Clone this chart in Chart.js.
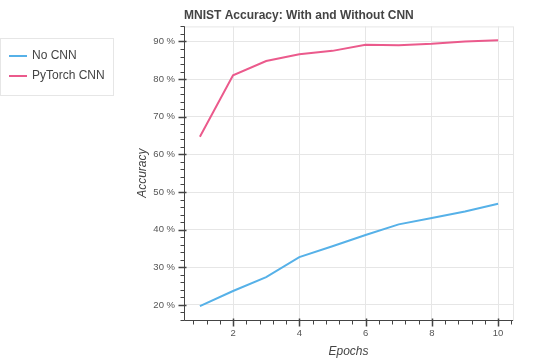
<!DOCTYPE html>
<html>
<head>
<meta charset="utf-8">
<script src="https://cdn.jsdelivr.net/npm/chart.js@4/dist/chart.umd.min.js"></script>
<style>
  html, body { margin: 0; padding: 0; background: #fff; }
  canvas { display: block; }
</style>
</head>
<body>
<canvas id="accChart" width="539" height="359"></canvas>
<script>
// Données
const epochs = [1, 2, 3, 4, 5, 6, 7, 8, 9, 10];
const noCnn = [19.7, 23.7, 27.4, 32.7, 35.6, 38.6, 41.4, 43.1, 44.8, 46.9];
const pytorchCnn = [64.7, 81.0, 84.8, 86.6, 87.5, 89.1, 89.0, 89.4, 90.0, 90.3];

const xTicks = [2, 4, 6, 8, 10];
const yTicks = [20, 30, 40, 50, 60, 70, 80, 90];

const FONT = "'Liberation Sans', Arial, Helvetica, sans-serif";
const AXIS_COLOR = "#444";
const GRID_COLOR = "#e6e6e6";

// Graduations mineures (x tous les 0.4, y tous les 2 %)
const xMinor = [];
for (let i = 2; i <= 26; i++) xMinor.push(+(i * 0.4).toFixed(1));
const yMinor = [];
for (let v = 16; v <= 94; v += 2) yMinor.push(v);

function toPoints(values) {
  return epochs.map((e, i) => ({ x: e, y: values[i] }));
}

// Axes, ticks, cadre et légende façon Bokeh
const bokehAxes = {
  id: "bokehAxes",
  beforeDatasetsDraw(chart) {
    const { ctx, chartArea } = chart;
    ctx.save();
    ctx.strokeStyle = GRID_COLOR;
    ctx.lineWidth = 1;
    ctx.strokeRect(chartArea.left + 0.5, chartArea.top + 0.5,
      chartArea.right - chartArea.left, chartArea.bottom - chartArea.top);
    ctx.restore();
  },
  afterDraw(chart) {
    const { ctx, chartArea, scales } = chart;
    const x = scales.x;
    const y = scales.y;
    const left = Math.round(chartArea.left) + 0.5;
    const bottom = Math.round(chartArea.bottom) + 0.5;
    ctx.save();
    ctx.strokeStyle = AXIS_COLOR;
    ctx.lineWidth = 1;
    ctx.beginPath();
    // lignes des axes
    ctx.moveTo(left, chartArea.top);
    ctx.lineTo(left, bottom);
    ctx.moveTo(left, bottom);
    ctx.lineTo(chartArea.right, bottom);
    // ticks mineurs
    xMinor.forEach((v) => {
      const px = Math.round(x.getPixelForValue(v)) + 0.5;
      ctx.moveTo(px, bottom);
      ctx.lineTo(px, bottom + 4);
    });
    yMinor.forEach((v) => {
      const py = Math.round(y.getPixelForValue(v)) + 0.5;
      ctx.moveTo(left, py);
      ctx.lineTo(left - 4, py);
    });
    ctx.stroke();
    // ticks majeurs
    ctx.beginPath();
    ctx.lineWidth = 1.5;
    xTicks.forEach((v) => {
      const px = Math.round(x.getPixelForValue(v)) + 0.5;
      ctx.moveTo(px, bottom - 2);
      ctx.lineTo(px, bottom + 6);
    });
    yTicks.forEach((v) => {
      const py = Math.round(y.getPixelForValue(v)) + 0.5;
      ctx.moveTo(left + 2, py);
      ctx.lineTo(left - 6, py);
    });
    ctx.stroke();

    // légende
    ctx.fillStyle = "#fff";
    ctx.fillRect(0.5, 38.5, 113, 57);
    ctx.strokeStyle = GRID_COLOR;
    ctx.lineWidth = 1;
    ctx.strokeRect(0.5, 38.5, 113, 57);
    ctx.font = "12px " + FONT;
    ctx.textBaseline = "middle";
    chart.data.datasets.forEach((ds, i) => {
      const ly = 56 + i * 20;
      ctx.strokeStyle = ds.borderColor;
      ctx.lineWidth = 2;
      ctx.beginPath();
      ctx.moveTo(9, ly);
      ctx.lineTo(27, ly);
      ctx.stroke();
      ctx.fillStyle = "#444";
      ctx.fillText(ds.label, 32, ly);
    });
    ctx.restore();
  },
};

const ctx = document.getElementById("accChart").getContext("2d");
new Chart(ctx, {
  type: "line",
  data: {
    datasets: [
      {
        label: "No CNN",
        data: toPoints(noCnn),
        borderColor: "#56b1e8",
        borderWidth: 2,
        pointRadius: 0,
        tension: 0,
      },
      {
        label: "PyTorch CNN",
        data: toPoints(pytorchCnn),
        borderColor: "#eb5a8c",
        borderWidth: 2,
        pointRadius: 0,
        tension: 0,
      },
    ],
  },
  options: {
    responsive: false,
    animation: false,
    layout: { padding: { left: 0, right: 26, top: 0, bottom: 0 } },
    plugins: {
      legend: { display: false },
      tooltip: { enabled: false },
      title: {
        display: true,
        text: "MNIST Accuracy: With and Without CNN",
        align: "start",
        fullSize: false,
        color: "#444",
        font: { family: FONT, size: 12, weight: "bold" },
        padding: { top: 8, bottom: 4 },
      },
    },
    scales: {
      x: {
        type: "linear",
        min: 0.52,
        max: 10.45,
        afterBuildTicks: (s) => {
          s.ticks = xTicks.map((v) => ({ value: v }));
        },
        afterFit: (s) => {
          s.height = 39;
        },
        border: { display: false },
        grid: { color: GRID_COLOR, drawTicks: false },
        ticks: {
          color: "#555",
          font: { family: FONT, size: 9.5 },
          padding: 8,
          maxRotation: 0,
        },
        title: {
          display: true,
          text: "Epochs",
          color: "#444",
          font: { family: FONT, size: 12, style: "italic" },
          padding: { top: 0, bottom: 0 },
        },
      },
      y: {
        type: "linear",
        min: 16,
        max: 94,
        afterBuildTicks: (s) => {
          s.ticks = yTicks.map((v) => ({ value: v }));
        },
        afterFit: (s) => {
          s.width = 184;
        },
        border: { display: false },
        grid: { color: GRID_COLOR, drawTicks: false },
        ticks: {
          color: "#555",
          font: { family: FONT, size: 9.5 },
          padding: 9,
          callback: (v) => v + " %",
        },
        title: {
          display: true,
          text: "Accuracy",
          color: "#444",
          font: { family: FONT, size: 12, style: "italic" },
          padding: { top: 135, bottom: 0 },
        },
      },
    },
  },
  plugins: [bokehAxes],
});
</script>
</body>
</html>
